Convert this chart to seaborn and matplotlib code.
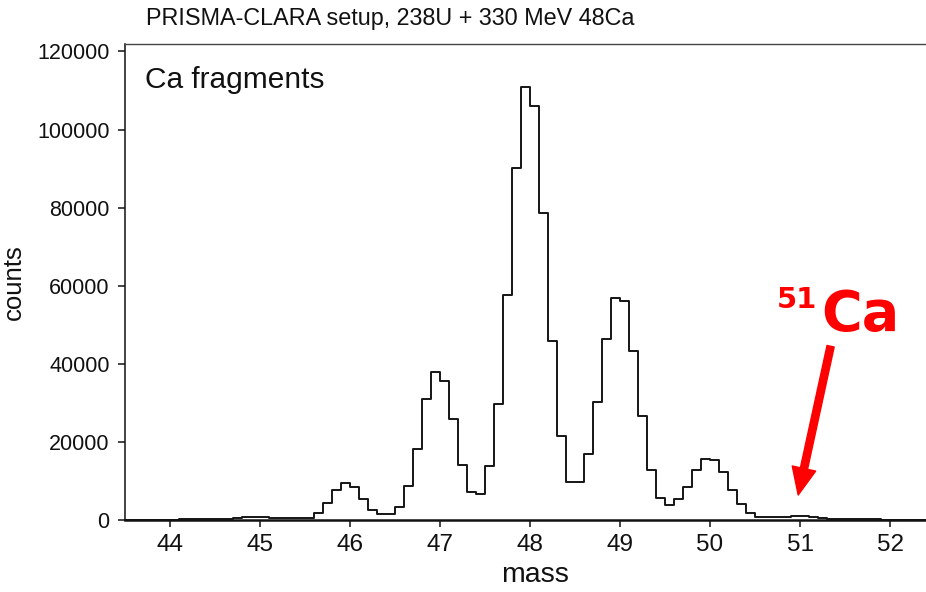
import numpy as np
import pandas as pd
import matplotlib
matplotlib.use("Agg")
import matplotlib.pyplot as plt
import seaborn as sns

# ---- data ----
bin_start = 43.5
bin_width = 0.1
counts = [
    50, 50, 60, 80, 100,                 # 43.5 - 44.0
    120, 150, 150, 180, 200,             # 44.0 - 44.5
    250, 300, 450, 650, 800,             # 44.5 - 45.0
    750, 550, 450, 400, 400,             # 45.0 - 45.5
    600, 1900, 4400, 7700, 9400,         # 45.5 - 46.0
    8500, 5500, 2600, 1500, 1500,        # 46.0 - 46.5
    3400, 8800, 18300, 30900, 37900,     # 46.5 - 47.0
    35700, 25800, 14000, 7100, 6600,     # 47.0 - 47.5
    13800, 29800, 57600, 90100, 110900,  # 47.5 - 48.0
    105900, 78600, 45800, 21500, 9800,   # 48.0 - 48.5
    9700, 16900, 30100, 46300, 56900,    # 48.5 - 49.0
    56000, 43200, 26600, 12800, 5700,    # 49.0 - 49.5
    3800, 5500, 8500, 12800, 15600,      # 49.5 - 50.0
    15300, 12200, 7700, 4100, 1700,      # 50.0 - 50.5
    850, 650, 650, 750, 900,             # 50.5 - 51.0
    1100, 800, 500, 350, 250,            # 51.0 - 51.5
    200, 180, 150, 130, 120,             # 51.5 - 52.0
    100, 100, 80, 80,                    # 52.0 - 52.4
]
x_ticks = [44, 45, 46, 47, 48, 49, 50, 51, 52]
y_ticks = [0, 20000, 40000, 60000, 80000, 100000, 120000]
title_text = "PRISMA-CLARA setup, 238U + 330 MeV 48Ca"
panel_text = "Ca fragments"
x_label = "mass"
y_label = "counts"

n = len(counts)
edges = [round(bin_start + bin_width * i, 2) for i in range(n + 1)]
centers = [round((edges[i] + edges[i + 1]) / 2, 3) for i in range(n)]
df = pd.DataFrame({"mass": centers, "counts": counts})

sns.set_theme(style="ticks")
plt.rcParams["font.family"] = ["Liberation Sans", "DejaVu Sans"]

fig = plt.figure(figsize=(9.26, 5.92), dpi=100)
ax = fig.add_axes([125 / 926, 1 - 520 / 592, 801 / 926, 476 / 592])

sns.histplot(data=df, x="mass", weights="counts", bins=edges,
             element="step", fill=False, color="#151515", linewidth=1.4, ax=ax)

ax.set_xlim(43.5, 52.4)
ax.set_ylim(0, 121900)
ax.set_xticks(x_ticks)
ax.set_yticks(y_ticks)
ax.tick_params(axis="both", direction="out", length=5, width=1.1, colors="#111",
               labelsize=15.5, pad=6)
ax.tick_params(axis="x", labelsize=17.5, pad=5)
ax.set_xlabel(x_label, fontsize=20.5, color="#111")
ax.set_ylabel(y_label, fontsize=18.5, labelpad=8, color="#111")
ax.xaxis.set_label_coords(0.512, -0.088)

ax.spines["left"].set_linewidth(1.1)
ax.spines["left"].set_color("#111")
ax.spines["bottom"].set_linewidth(1.8)
ax.spines["bottom"].set_color("#111")
ax.spines["top"].set_visible(True)
ax.spines["top"].set_linewidth(1.0)
ax.spines["top"].set_color("#444")
ax.spines["right"].set_visible(False)

ax.text(0.025, 0.925, panel_text, transform=ax.transAxes, fontsize=21.5,
        ha="left", va="center", color="#111")
fig.text(146 / 926, 1 - 19 / 592, title_text, fontsize=16.8, ha="left",
         va="center", color="#111")

# annotation for 51Ca
red = "#ff0000"
ax.annotate("", xy=(50.98, 6400), xytext=(51.34, 44500),
            arrowprops=dict(arrowstyle="simple,head_length=1.3,head_width=1.15,tail_width=0.35",
                            mutation_scale=15, color=red, shrinkA=0, shrinkB=0))
ax.text(50.74, 54200, "51", fontsize=21, fontweight="bold", color=red,
        ha="left", va="baseline", family=["DejaVu Sans"])
ax.text(51.24, 48600, "Ca", fontsize=40, fontweight="bold", color=red,
        ha="left", va="baseline", family=["DejaVu Sans"])

fig.savefig("out.png", dpi=100)
